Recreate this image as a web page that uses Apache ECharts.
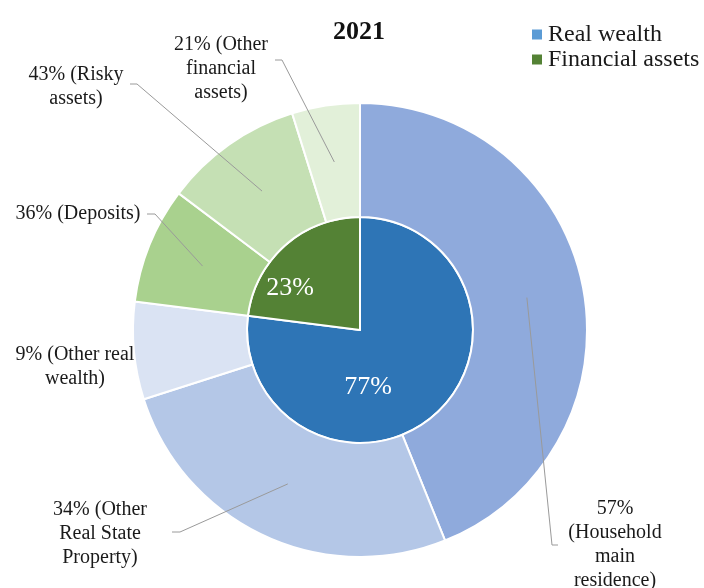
<!DOCTYPE html>
<html><head><meta charset="utf-8">
<script src="https://cdn.jsdelivr.net/npm/echarts@6/dist/echarts.min.js"></script>
<style>html,body{margin:0;padding:0;background:#fff}#c{width:704px;height:588px}</style>
</head><body><div id="c"></div>
<script>
// ---- data ----
const chartTitle = '2021';
const innerNames = ['Real wealth', 'Financial assets'];
const innerValues = [77, 23];
const outerNames = ['Household main residence', 'Other Real State Property', 'Other real wealth', 'Deposits', 'Risky assets', 'Other financial assets'];
const outerParent = [0, 0, 0, 1, 1, 1];
const outerShares = [57, 34, 9, 36, 43, 21];
const outerLabels = ['57%\n(Household\nmain\nresidence)', '34% (Other\nReal State\nProperty)', '9% (Other real\nwealth)', '36% (Deposits)', '43% (Risky\nassets)', '21% (Other\nfinancial\nassets)'];

// ---- styles / layout ----
const FONT = 'Liberation Serif, Times New Roman, serif';
const CX = 360, CY = 330, R0 = 113, R1 = 227;
const innerColors = ['#2E75B6', '#548235'];
const legendColors = ['#5B9BD5', '#548235'];
const outerColors = ['#8FAADC', '#B4C7E7', '#DAE3F3', '#A9D18E', '#C5E0B4', '#E2F0D9'];
const outerLabelPos = [[615, 545], [100, 534], [75, 367], [78, 214], [76, 87], [221, 69]];
const outerLineEnds = [[[552, 545], [558, 545]], [[180, 532], [172, 532]], null, [[155, 214], [147, 214]], [[137, 84], [130, 84]], [[282, 60], [275, 60]]];
const innerLabelPos = [[368, 387], [290, 288]];

const outerValues = outerShares.map((s, i) => innerValues[outerParent[i]] * s / 100);
const outerTotal = outerValues.reduce((a, b) => a + b, 0);
function anchor(i) {
  let cum = 0;
  for (let k = 0; k < i; k++) cum += outerValues[k];
  const theta = (cum + outerValues[i] / 2) / outerTotal * 2 * Math.PI;
  const r = (R0 + R1) / 2;
  return [CX + r * Math.sin(theta), CY - r * Math.cos(theta)];
}

const leaderLines = [];
outerLineEnds.forEach((ends, i) => {
  if (!ends) return;
  leaderLines.push({
    type: 'polyline', z: 100, silent: true,
    shape: {points: [anchor(i)].concat(ends)},
    style: {stroke: '#9a9a9a', lineWidth: 1, fill: null}
  });
});

const chart = echarts.init(document.getElementById('c'), null, {renderer: 'canvas'});
chart.setOption({
  animation: false,
  backgroundColor: '#ffffff',
  title: {
    text: chartTitle, left: 333, top: 16, padding: 0,
    textStyle: {fontFamily: FONT, fontSize: 26, fontWeight: 'bold', color: '#111', lineHeight: 32}
  },
  legend: {
    orient: 'vertical', left: 530, top: 22, padding: 0, itemGap: 0,
    itemWidth: 12, itemHeight: 12, icon: 'rect',
    textStyle: {fontFamily: FONT, fontSize: 24, color: '#1a1a1a', lineHeight: 25},
    data: innerNames.map((n, i) => ({name: n, itemStyle: {color: legendColors[i]}}))
  },
  graphic: {elements: leaderLines},
  series: [
    {
      type: 'pie', name: 'inner', center: [CX, CY], radius: [0, R0],
      startAngle: 90, clockwise: true, avoidLabelOverlap: false,
      itemStyle: {borderColor: '#fff', borderWidth: 2},
      label: {show: true, formatter: p => p.value + '%', color: '#fff', fontFamily: FONT, fontSize: 26},
      labelLine: {show: false},
      labelLayout: p => ({x: innerLabelPos[p.dataIndex][0], y: innerLabelPos[p.dataIndex][1], align: 'center', verticalAlign: 'middle'}),
      emphasis: {disabled: true},
      data: innerNames.map((n, i) => ({name: n, value: innerValues[i], itemStyle: {color: innerColors[i]}}))
    },
    {
      type: 'pie', name: 'outer', center: [CX, CY], radius: [R0, R1],
      startAngle: 90, clockwise: true, avoidLabelOverlap: false,
      itemStyle: {borderColor: '#fff', borderWidth: 2},
      label: {show: true, position: 'outside', color: '#1a1a1a', fontFamily: FONT, fontSize: 20, lineHeight: 24, align: 'center',
        formatter: p => outerLabels[p.dataIndex]},
      labelLine: {show: false},
      labelLayout: p => {
        const i = p.dataIndex;
        return {x: outerLabelPos[i][0], y: outerLabelPos[i][1], align: 'center', verticalAlign: 'middle'};
      },
      emphasis: {disabled: true},
      data: outerNames.map((n, i) => ({name: n, value: outerValues[i], itemStyle: {color: outerColors[i]}}))
    }
  ]
});
</script>
</body></html>
